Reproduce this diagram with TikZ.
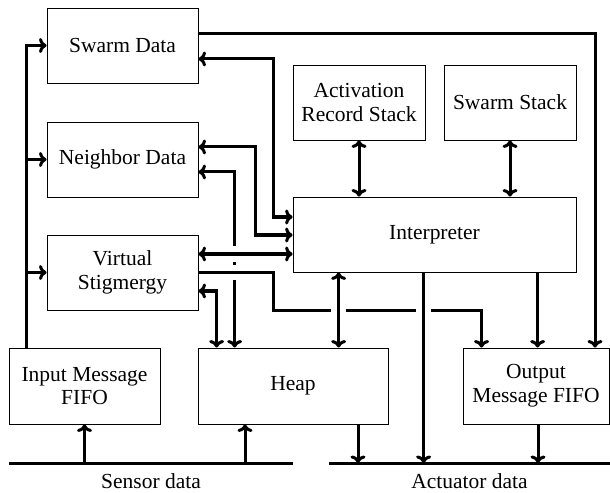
\documentclass[tikz,border=0pt]{standalone}
\usepackage{fontspec}
\setmainfont{Liberation Serif}
\usetikzlibrary{arrows.meta,calc}

\tikzset{
    box/.style={draw, inner sep=0pt, align=center, font=\fontsize{10}{11}\selectfont},
    link/.style={line width=1.4pt, >={Computer Modern Rightarrow[length=3.5pt,width=7pt]}},
    gap/.style={preaction={draw=white, line width=7pt, -, shorten >=4pt, shorten <=4pt}},
}

\begin{document}
\begin{tikzpicture}[x=0.4655pt, y=-0.4655pt]
    \useasboundingbox (0,0) rectangle (610,493);

    \node[box, minimum width=70.3pt, minimum height=34.9pt] (swarm) at (122.5,45.5) {Swarm Data};
    \node[box, minimum width=70.3pt, minimum height=34.9pt] (neighbor) at (122.5,159.5) {Neighbor Data};
    \node[box, minimum width=70.3pt, minimum height=34.9pt] (vstig) at (122.5,272.5) {Virtual\\Stigmergy};
    \node[box, minimum width=70.3pt, minimum height=35.4pt] (infifo) at (84.5,386) {Input Message\\FIFO};
    \node[box, minimum width=88.4pt, minimum height=35.4pt] (heap) at (293,386) {Heap};
    \node[box, minimum width=68pt, minimum height=35.4pt] (outfifo) at (536,386) {Output\\Message FIFO};
    \node[box, minimum width=61.4pt, minimum height=34.9pt] (ars) at (359,102.5) {Activation\\Record Stack};
    \node[box, minimum width=61.4pt, minimum height=34.9pt] (sstack) at (510,102.5) {Swarm Stack};
    \node[box, minimum width=131.7pt, minimum height=34.9pt] (interp) at (434.5,234.5) {Interpreter};

    \coordinate (sensorL) at (9,463);
    \coordinate (sensorR) at (293,463);
    \coordinate (actL) at (329,463);
    \coordinate (actR) at (610,463);
    \node[font=\fontsize{10}{11}\selectfont] (sensor) at ($(sensorL)!0.5!(sensorR)+(0,18)$) {Sensor data};
    \node[font=\fontsize{10}{11}\selectfont] (actuator) at ($(actL)!0.5!(actR)+(0,18)$) {Actuator data};

    \begin{scope}[link]
        \draw (sensorL) -- (sensorR);
        \draw (actL) -- (actR);

        % input fifo feeds the three data stores
        \coordinate (inbus) at ($(infifo.north west)+(18,0)$);
        \draw[->] (inbus) |- (swarm.west);
        \draw[->] (inbus |- neighbor.west) -- (neighbor.west);
        \draw[->] (inbus |- vstig.west) -- (vstig.west);

        \draw[->] ($(swarm.east)+(0,-11.5)$) -| ($(outfifo.north)+(59,0)$);
        \draw[<->] ($(swarm.east)+(0,13.5)$) -| ($(interp.west)+(-19,-17.5)$) -- ($(interp.west)+(0,-17.5)$);
        \draw[<->] ($(neighbor.east)+(0,-12.5)$) -| ($(interp.west)+(-37,0.5)$) -- ($(interp.west)+(0,0.5)$);
        \draw[<->] ($(neighbor.east)+(0,12.5)$) -| ($(heap.north west)+(37,0)$);
        \draw[<->] ($(vstig.east)+(0,18.5)$) -| ($(heap.north west)+(19,0)$);

        \draw[<->, gap] ($(vstig.east)+(0,-18.5)$) coordinate (vsi) -- (vsi -| interp.west);
        \draw[->, gap] (vstig.east) -- ++(75,0) |- ($(outfifo.north west)+(19,-37)$) -- ($(outfifo.north west)+(19,0)$);

        \draw[<->, gap] ($(interp.south west)+(46,0)$) coordinate (ih) -- (ih |- heap.north);
        \draw[->, gap] ($(interp.south west)+(131,0)$) coordinate (ia) -- (ia |- actL);
        \draw[->] ($(interp.south west)+(245,0)$) coordinate (io) -- (io |- outfifo.north);

        \draw[<->] (ars.south) -- (ars.south |- interp.north);
        \draw[<->] (sstack.south) -- (sstack.south |- interp.north);

        % buses
        \coordinate (ha) at ($(heap.south)+(65,0)$);
        \coordinate (oa) at ($(outfifo.south)+(2,0)$);
        \coordinate (sh) at ($(heap.south)+(-48,0)$);
        \draw[->] (ha) -- (ha |- actL);
        \draw[->] (oa) -- (oa |- actL);
        \draw[->] (infifo.south |- sensorL) -- (infifo.south);
        \draw[->] (sh |- sensorL) -- (sh);
    \end{scope}
\end{tikzpicture}
\end{document}
